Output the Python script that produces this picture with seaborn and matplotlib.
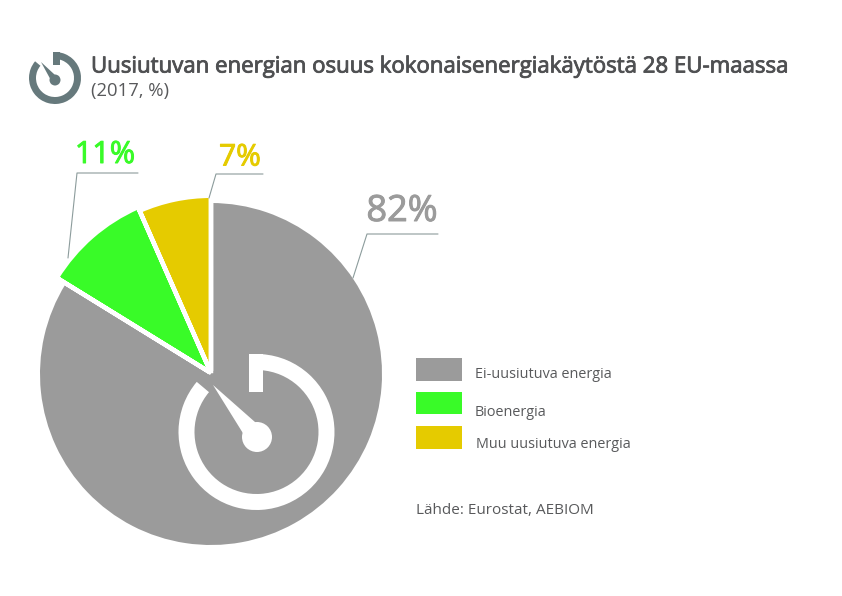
import matplotlib
matplotlib.use("Agg")
import matplotlib.pyplot as plt
import matplotlib.patheffects as pe
from matplotlib.patches import Wedge, Polygon, Circle, Rectangle
import seaborn as sns

sns.set_theme(style="white")
plt.rcParams['font.family'] = ['Open Sans', 'DejaVu Sans']

categories = ["Ei-uusiutuva energia", "Bioenergia", "Muu uusiutuva energia"]
label_values = [82, 11, 7]
drawn_shares = [83.8, 9.6, 6.6]
colors = ["#9b9b9b", "#39fb28", "#e5cb00"]
title = "Uusiutuvan energian osuus kokonaisenergiakäytöstä 28 EU-maassa"
subtitle = "(2017, %)"
source = "Lähde: Eurostat, AEBIOM"

W, H = 842, 596
fig = plt.figure(figsize=(W / 100, H / 100), dpi=100, facecolor="white")
ax = fig.add_axes([0, 0, 1, 1])


def Y(y):
    return H - y


# pie, one slice per call because the slices have different radii
radii = [171, 179, 175]
centres = [(211, 374), (211, 373), (211, 373)]
start = 90
for share, col, r, (cx, cy) in zip(drawn_shares, colors, radii, centres):
    ax.pie([share, 100 - share], colors=[col, "none"], startangle=start, counterclock=False,
           radius=r, center=(cx, Y(cy)), wedgeprops=dict(linewidth=0), frame=True)
    start -= share * 3.6

# white separators between the slices
bound = 90
for share in drawn_shares:
    bound -= share * 3.6
    ax.add_patch(Wedge((211, Y(373)), 190, bound - 0.01, bound + 0.01, width=188,
                       ec="white", lw=3.2, fc="white"))


def icon(cx, cy, hub_x, hub_y, outer, inner, hub_r, tip, stem, col, z=5):
    # ring running clockwise from the top round to the upper left
    ax.add_patch(Wedge((cx, Y(cy)), outer, 140, 90 - 4, width=outer - inner, fc=col, ec="none", zorder=z))
    x0, x1, y0, y1 = stem
    ax.add_patch(Rectangle((x0, Y(y1)), x1 - x0, y1 - y0, fc=col, ec="none", zorder=z))
    ax.add_patch(Circle((hub_x, Y(hub_y)), hub_r, fc=col, ec="none", zorder=z))
    dx, dy = hub_x - tip[0], hub_y - tip[1]
    n = (dx ** 2 + dy ** 2) ** 0.5
    ux, uy = dx / n, dy / n
    bx, by = hub_x - ux * hub_r * 0.8, hub_y - uy * hub_r * 0.8
    px, py = -uy * hub_r * 0.55, ux * hub_r * 0.55
    ax.add_patch(Polygon([(tip[0], Y(tip[1])), (bx + px, Y(by + py)), (bx - px, Y(by - py))],
                         closed=True, fc=col, ec="none", zorder=z))


icon(256.5, 432, 257, 437, 78, 62, 15, (213, 385), (249, 263, 354, 392), "white")
icon(55, 78, 55, 80, 26, 19, 5.5, (41, 62), (53, 60, 52, 65), "#66797c")

# leader lines
lead = "#8c9c9c"
for pts in ([(138, 173), (77, 173), (68, 258)],
            [(263, 174), (216, 174), (209, 198)],
            [(438, 234), (367, 234), (353, 278)]):
    ax.plot([p[0] for p in pts], [Y(p[1]) for p in pts], color=lead, lw=0.8, zorder=3)

# value labels
for val, col, (x, y), fs in zip(label_values, colors,
                                [(402, 212), (105, 155), (240, 158)], [26, 22, 21.5]):
    ax.text(x, Y(y), f"{val}%", color=col, fontsize=fs, ha="center", va="center",
            path_effects=[pe.withStroke(linewidth=0.7, foreground=col)])

# title
ax.text(91, Y(67), title, fontsize=16.0, color="#4f5052", va="center", ha="left",
        path_effects=[pe.withStroke(linewidth=0.6, foreground="#4f5052")])
ax.text(91, Y(91), subtitle, fontsize=13.3, color="#58595b", va="center", ha="left")

# legend
for (y0, y1), col in zip([(358, 381), (392, 414), (426, 449)], colors):
    ax.add_patch(Rectangle((416, Y(y1)), 46, y1 - y0, fc=col, ec="none"))
for name, (x, y) in zip(categories, [(475, 374), (475, 412), (476, 444)]):
    ax.text(x, Y(y), name, fontsize=10.4, color="#58595b", va="center", ha="left")
ax.text(416, Y(510), source, fontsize=11, color="#58595b", va="center", ha="left")

ax.set_xlim(0, W)
ax.set_ylim(0, H)
ax.set_aspect("equal")
ax.set_axis_off()
fig.savefig("out.png", dpi=100, facecolor="white")
